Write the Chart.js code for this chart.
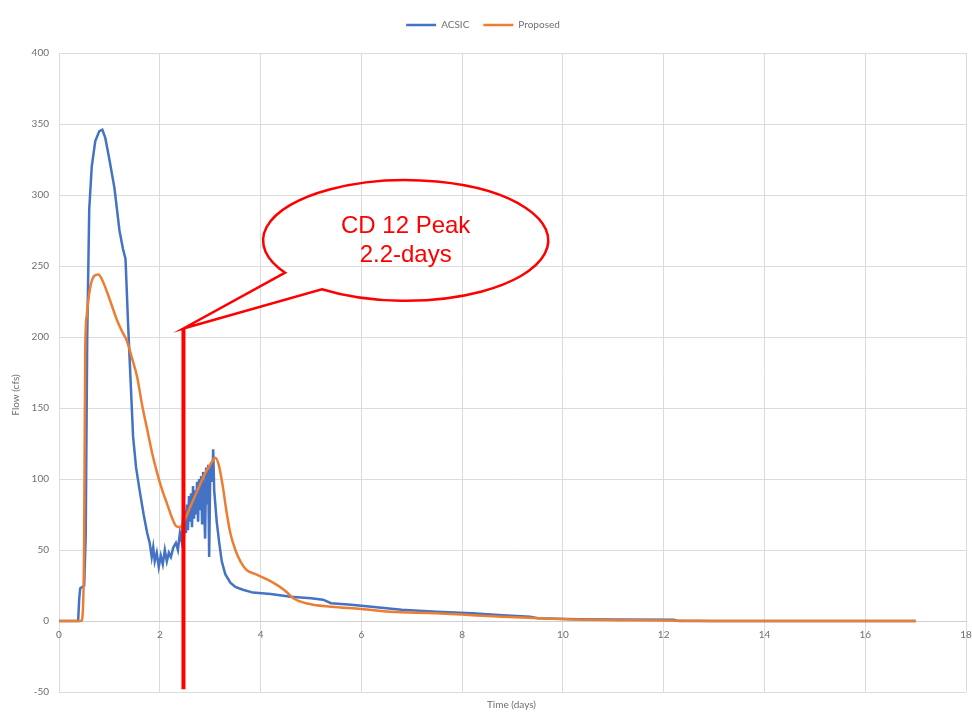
<!DOCTYPE html>
<html>
<head>
<meta charset="utf-8">
<script src="https://cdn.jsdelivr.net/npm/chart.js@4.4.0/dist/chart.umd.min.js"></script>
<style>
  html, body { margin: 0; padding: 0; background: #fff; }
  #wrap { width: 972px; height: 717px; }
</style>
</head>
<body>
<div id="wrap"><canvas id="flowChart"></canvas></div>
<script>
// Dados (dias x vazão em cfs)
const seriesNames = ['ACSIC', 'Proposed'];

const acsicDays = [0, 0.38, 0.40, 0.42, 0.50, 0.53, 0.56, 0.60, 0.65, 0.72, 0.80, 0.86, 0.92, 1.00, 1.10, 1.20, 1.27, 1.32,
  1.37, 1.42, 1.47, 1.53, 1.60, 1.68, 1.75, 1.80, 1.84, 1.87, 1.90, 1.94, 1.98, 2.02, 2.06, 2.10, 2.14, 2.18, 2.22,
  2.27, 2.32, 2.36, 2.40, 2.44, 2.46, 2.48, 2.50, 2.52, 2.54, 2.56, 2.58, 2.60, 2.62, 2.64, 2.66, 2.68, 2.70, 2.72,
  2.74, 2.76, 2.78, 2.80, 2.82, 2.84, 2.86, 2.88, 2.90, 2.92, 2.94, 2.96, 2.98, 3.00, 3.02, 3.04, 3.06, 3.08,
  3.13, 3.18, 3.23, 3.30, 3.40, 3.50, 3.65, 3.85, 4.20, 4.60, 5.00, 5.24, 5.40, 5.80,
  6.20, 6.80, 7.50, 8.20, 8.80, 9.35, 9.50, 10.3, 11.0, 12.2, 12.3, 17.0];
const acsicFlow = [0, 0, 15, 23, 25, 60, 200, 290, 320, 338, 345, 346, 340, 325, 305, 275, 262, 255,
  210, 170, 130, 108, 92, 75, 62, 55, 45, 52, 42, 48, 38, 46, 40, 50, 42, 48, 45,
  52, 55, 50, 62, 55, 72, 58, 78, 62, 82, 64, 88, 70, 90, 66, 95, 72, 92, 75,
  98, 70, 100, 78, 102, 68, 105, 80, 58, 108, 82, 110, 45, 100, 112, 98, 121, 92,
  70, 55, 42, 33, 27, 24, 22, 20, 19, 17, 16, 15, 12.5, 11.5,
  10, 8, 6.5, 5.5, 4, 3, 2, 1.2, 1, 0.8, 0, 0];

const proposedDays = [0, 0.44, 0.47, 0.50, 0.52, 0.55, 0.62, 0.70, 0.78, 0.86, 0.95, 1.05, 1.15, 1.25, 1.35, 1.45,
  1.55, 1.65, 1.75, 1.85, 1.95, 2.05, 2.15, 2.25, 2.32, 2.40, 2.48, 2.60, 2.75, 2.90, 3.00, 3.10, 3.17, 3.25, 3.32,
  3.40, 3.50, 3.60, 3.72, 3.90, 4.25, 4.50, 4.65, 4.90, 5.40, 6.00, 6.57, 7.50, 8.20, 8.80, 9.54, 10.3, 11.5, 12.5,
  13.0, 17.0];
const proposedFlow = [0, 0, 5, 60, 190, 215, 235, 243, 244, 240, 232, 222, 212, 204, 197, 185,
  172, 152, 135, 118, 104, 92, 82, 72, 67, 66, 70, 80, 92, 104, 110, 115, 110, 95, 78,
  62, 50, 42, 36, 33, 27, 21, 16, 12.5, 10, 8.5, 6.5, 5.5, 4, 3, 2, 1, 0.5, 0.2,
  0, 0];

const xMin = 0, xMax = 18, xStep = 2;
const yMin = -50, yMax = 400, yStep = 50;

// Balão de destaque (em unidades do gráfico)
const calloutDay = 2.47;
const calloutTop = 206;
const calloutBottom = -48;
const calloutCenter = [6.88, 268];
const calloutRadius = [2.83, 42.5];
const calloutText = ['CD 12 Peak', '2.2-days'];

const toPoints = (xs, ys) => xs.map((x, i) => ({ x: x, y: ys[i] }));

const labelGray = '#6f6f6f';
const labelFont = 'Lato, "Open Sans", sans-serif';

// espaço extra entre a legenda e a área do gráfico
const legendGap = {
  id: 'legendGap',
  afterInit(chart) {
    const legend = chart.legend;
    const fit = legend.fit;
    legend.fit = function () {
      fit.call(this);
      this.height += 13;
    };
  }
};

const calloutPlugin = {
  id: 'callout',
  afterDatasetsDraw(chart) {
    const { ctx, scales: { x, y } } = chart;
    const px = x.getPixelForValue(calloutDay);
    const tipY = y.getPixelForValue(calloutTop);
    const cx = x.getPixelForValue(calloutCenter[0]);
    const cy = y.getPixelForValue(calloutCenter[1]);
    const rx = x.getPixelForValue(calloutCenter[0] + calloutRadius[0]) - cx;
    const ry = cy - y.getPixelForValue(calloutCenter[1] + calloutRadius[1]);
    const a1 = 147.7 * Math.PI / 180;
    const a2 = (126 + 360) * Math.PI / 180;

    ctx.save();
    ctx.strokeStyle = '#ff0000';
    ctx.lineWidth = 4;
    ctx.beginPath();
    ctx.moveTo(px, tipY);
    ctx.lineTo(px, y.getPixelForValue(calloutBottom));
    ctx.stroke();

    ctx.lineWidth = 2.5;
    ctx.beginPath();
    ctx.ellipse(cx, cy, rx, ry, 0, a1, a2, false);
    ctx.lineTo(px, tipY);
    ctx.closePath();
    ctx.stroke();

    ctx.fillStyle = '#ff0000';
    ctx.font = '24px "Liberation Sans", Arial, sans-serif';
    ctx.textAlign = 'center';
    ctx.textBaseline = 'middle';
    ctx.fillText(calloutText[0], cx, cy - 14);
    ctx.fillText(calloutText[1], cx, cy + 15);
    ctx.restore();
  },
  afterDraw(chart) {
    // títulos dos eixos
    const { ctx, chartArea } = chart;
    ctx.save();
    ctx.fillStyle = labelGray;
    ctx.font = '10px ' + labelFont;
    ctx.textAlign = 'center';
    ctx.textBaseline = 'middle';
    ctx.fillText('Time (days)', (chartArea.left + chartArea.right) / 2 - 1, 705);
    ctx.translate(16, 395);
    ctx.rotate(-Math.PI / 2);
    ctx.fillText('Flow (cfs)', 0, 0);
    ctx.restore();
  }
};

const ctx = document.getElementById('flowChart');
new Chart(ctx, {
  type: 'line',
  data: {
    datasets: [{
      label: seriesNames[0],
      data: toPoints(acsicDays, acsicFlow),
      borderColor: '#4472C4',
      backgroundColor: '#4472C4',
      borderWidth: 2.5,
      pointRadius: 0,
      tension: 0,
      order: 1
    }, {
      label: seriesNames[1],
      data: toPoints(proposedDays, proposedFlow),
      borderColor: '#ED7D31',
      backgroundColor: '#ED7D31',
      borderWidth: 2.5,
      pointRadius: 0,
      cubicInterpolationMode: 'monotone',
      order: 0
    }]
  },
  options: {
    responsive: true,
    maintainAspectRatio: false,
    animation: false,
    layout: { padding: { left: 0, right: 6, top: 6, bottom: 25 } },
    plugins: {
      legend: {
        position: 'top',
        labels: {
          usePointStyle: true,
          pointStyle: 'line',
          pointStyleWidth: 30,
          boxHeight: 10,
          padding: 14,
          color: labelGray,
          font: { size: 10, family: labelFont },
          sort: (a, b) => a.datasetIndex - b.datasetIndex
        }
      },
      tooltip: { enabled: false }
    },
    scales: {
      x: {
        type: 'linear',
        position: { y: 0 },
        min: xMin,
        max: xMax,
        ticks: { stepSize: xStep, padding: 8, color: labelGray, font: { size: 10, family: labelFont } },
        grid: { color: '#dcdcdc', drawTicks: false },
        border: { color: '#cfcfcf' },
        afterFit(scale) { scale.paddingRight = 0; scale.paddingLeft = 0; }
      },
      y: {
        min: yMin,
        max: yMax,
        ticks: { stepSize: yStep, padding: 10, color: labelGray, font: { size: 10, family: labelFont } },
        grid: { color: '#dcdcdc', drawTicks: false },
        border: { display: false },
        afterFit(scale) { scale.width = 59; }
      }
    }
  },
  plugins: [legendGap, calloutPlugin]
});
</script>
</body>
</html>
